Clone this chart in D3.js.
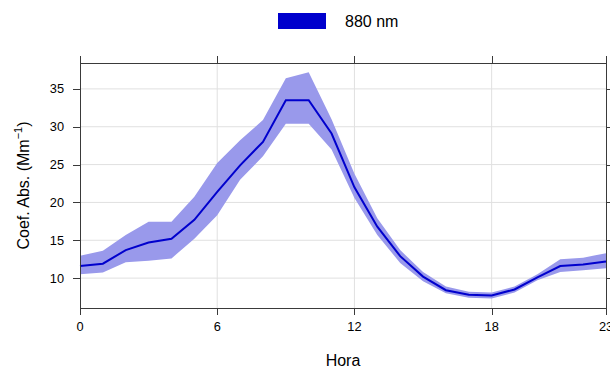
<!DOCTYPE html>
<html lang="es">
<head>
    <meta charset="UTF-8">
    <script src="https://d3js.org/d3.v7.min.js"></script>
    <style>
        body { margin: 0; background: white; }
        text { font-family: "Liberation Sans", Arial, sans-serif; fill: #000; }
        .tick-label { font-size: 12.8px; }
        .axis-title { font-size: 16px; }
        .legend text { font-size: 16px; }
        .grid line { stroke: #e0e0e0; stroke-width: 1px; }
        .frame { fill: none; stroke: #3a3a3a; stroke-width: 1px; }
        .tickmark { stroke: #3a3a3a; stroke-width: 1px; }
    </style>
    <title>880 nm</title>
</head>
<body>
    <svg id="chart" width="610" height="368"></svg>
    <script>
        // hourly mean absorption coefficient and its interval
        const hours = d3.range(0, 24);
        const meanVals = [11.6, 11.9, 13.7, 14.7, 15.2, 17.7, 21.4, 24.9, 28.0, 33.5, 33.5, 29.1,
                          22.0, 16.8, 12.9, 10.2, 8.4, 7.8, 7.7, 8.5, 10.1, 11.6, 11.8, 12.2];
        const upperVals = [12.95, 13.6, 15.7, 17.45, 17.45, 20.75, 25.2, 28.2, 30.9, 36.4, 37.2, 31.0,
                           23.8, 17.9, 13.7, 10.8, 8.9, 8.2, 8.1, 8.9, 10.5, 12.5, 12.7, 13.3];
        const lowerVals = [10.5, 10.75, 12.1, 12.3, 12.6, 15.2, 18.3, 23.0, 26.1, 30.4, 30.4, 27.0,
                           20.6, 15.7, 12.0, 9.6, 8.0, 7.4, 7.3, 8.1, 9.7, 10.8, 11.05, 11.3];
        const xTicks = [0, 6, 12, 18, 23];
        const yTicks = [10, 15, 20, 25, 30, 35];
        const seriesName = "880 nm";

        const svg = d3.select("#chart");
        const margin = { top: 63, right: 4, bottom: 60, left: 80 };
        const width = +svg.attr("width");
        const height = +svg.attr("height");
        const plotWidth = width - margin.left - margin.right;
        const plotHeight = height - margin.top - margin.bottom;

        const lineColor = "#0000CD";
        const bandColor = "#9999EB";
        const tickLen = 7;

        const x = d3.scaleLinear().domain([0, 23]).range([0, plotWidth]);
        const y = d3.scaleLinear().domain([6.05, 38.42]).range([plotHeight, 0]);

        const g = svg.append("g")
            .attr("transform", "translate(" + margin.left + "," + margin.top + ")");

        // grid
        const grid = g.append("g").attr("class", "grid");
        grid.selectAll(".gx").data(xTicks.filter(d => d > 0 && d < 23))
            .enter().append("line")
            .attr("x1", d => x(d)).attr("x2", d => x(d))
            .attr("y1", 0).attr("y2", plotHeight);
        grid.selectAll(".gy").data(yTicks)
            .enter().append("line")
            .attr("x1", 0).attr("x2", plotWidth)
            .attr("y1", d => y(d)).attr("y2", d => y(d));

        const rows = hours.map((h, i) => ({ h: h, m: meanVals[i], lo: lowerVals[i], hi: upperVals[i] }));

        // interval band
        const band = d3.area()
            .x(d => x(d.h))
            .y0(d => y(d.lo))
            .y1(d => y(d.hi));
        g.append("path")
            .datum(rows)
            .attr("d", band)
            .attr("fill", bandColor)
            .attr("stroke", "none");

        // mean line
        const line = d3.line()
            .x(d => x(d.h))
            .y(d => y(d.m));
        g.append("path")
            .datum(rows)
            .attr("d", line)
            .attr("fill", "none")
            .attr("stroke", lineColor)
            .attr("stroke-width", 2);

        // frame
        g.append("rect")
            .attr("class", "frame")
            .attr("x", 0.5).attr("y", 0.5)
            .attr("width", plotWidth).attr("height", plotHeight);

        // tick marks on all four sides, outward
        const ticks = g.append("g");
        ticks.selectAll(".tb").data(xTicks).enter().append("line")
            .attr("class", "tickmark")
            .attr("x1", d => Math.round(x(d)) + 0.5).attr("x2", d => Math.round(x(d)) + 0.5)
            .attr("y1", plotHeight).attr("y2", plotHeight + tickLen);
        ticks.selectAll(".tt").data(xTicks).enter().append("line")
            .attr("class", "tickmark")
            .attr("x1", d => Math.round(x(d)) + 0.5).attr("x2", d => Math.round(x(d)) + 0.5)
            .attr("y1", 0).attr("y2", -tickLen);
        ticks.selectAll(".tl").data(yTicks).enter().append("line")
            .attr("class", "tickmark")
            .attr("x1", 0).attr("x2", -tickLen)
            .attr("y1", d => Math.round(y(d)) + 0.5).attr("y2", d => Math.round(y(d)) + 0.5);
        ticks.selectAll(".tr").data(yTicks).enter().append("line")
            .attr("class", "tickmark")
            .attr("x1", plotWidth).attr("x2", plotWidth + tickLen)
            .attr("y1", d => Math.round(y(d)) + 0.5).attr("y2", d => Math.round(y(d)) + 0.5);

        // tick labels
        g.selectAll(".xl").data(xTicks).enter().append("text")
            .attr("class", "tick-label")
            .attr("x", d => x(d))
            .attr("y", plotHeight + 23)
            .attr("text-anchor", "middle")
            .text(d => d);
        g.selectAll(".yl").data(yTicks).enter().append("text")
            .attr("class", "tick-label")
            .attr("x", -tickLen - 9)
            .attr("y", d => y(d))
            .attr("dy", "0.35em")
            .attr("text-anchor", "end")
            .text(d => d);

        // axis titles
        svg.append("text")
            .attr("class", "axis-title")
            .attr("x", margin.left + plotWidth / 2)
            .attr("y", 366)
            .attr("text-anchor", "middle")
            .text("Hora");
        const yTitle = svg.append("text")
            .attr("class", "axis-title")
            .attr("transform", "translate(29," + (margin.top + plotHeight / 2) + ") rotate(-90)")
            .attr("text-anchor", "middle");
        yTitle.append("tspan").text("Coef. Abs. (Mm");
        yTitle.append("tspan").attr("dy", -7).attr("font-size", "11px").text("\u22121");
        yTitle.append("tspan").attr("dy", 7).text(")");

        // legend
        const legend = svg.append("g").attr("class", "legend");
        legend.append("rect")
            .attr("x", 278).attr("y", 13)
            .attr("width", 48).attr("height", 16)
            .attr("fill", lineColor);
        legend.append("text")
            .attr("x", 345).attr("y", 27)
            .text(seriesName);
    </script>
</body>
</html>
